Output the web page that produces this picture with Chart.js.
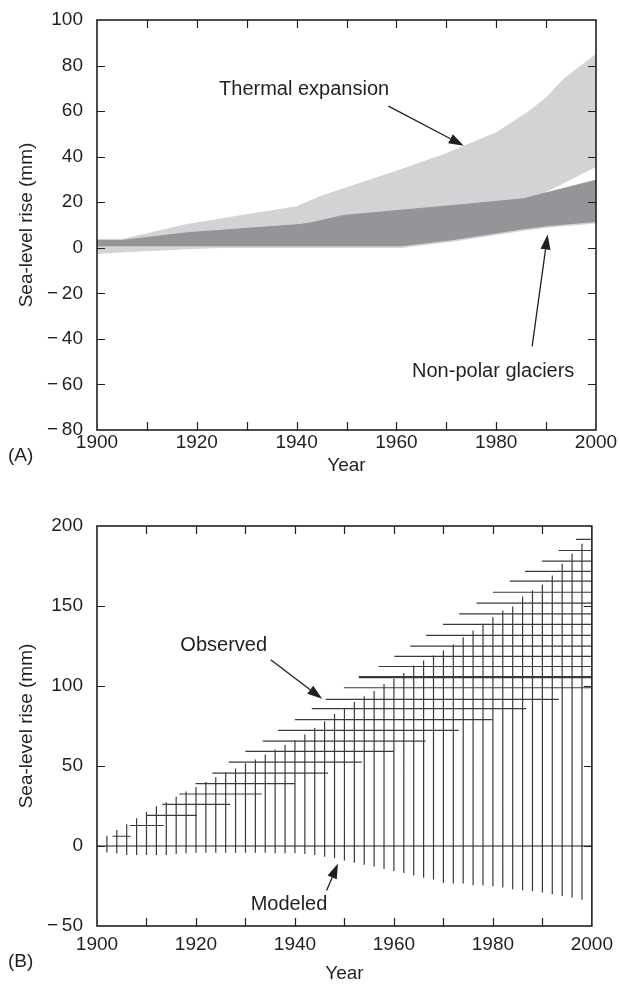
<!DOCTYPE html>
<html>
<head>
<meta charset="utf-8">
<script src="https://cdn.jsdelivr.net/npm/chart.js@4.4.1/dist/chart.umd.min.js"></script>
<style>
  html, body { margin: 0; background: #fff; }
  #wrap { position: relative; width: 620px; height: 988px; }
  canvas { position: absolute; left: 0; }
</style>
</head>
<body>
<div id="wrap">
  <canvas id="chartA" width="620" height="494" style="top:0"></canvas>
  <canvas id="chartB" width="620" height="494" style="top:494px"></canvas>
</div>
<script>
// ---- panel A: thermal expansion and glacier bands (mm) ----
const thermalYears = [1900, 1905, 1918, 1930, 1940, 1945, 1953, 1960, 1970, 1980, 1986, 1990, 1993.5, 2000];
const thermalHigh  = [3.6, 3.6, 10.2, 14.5, 18.0, 22.7, 28.5, 33.6, 41.3, 50.5, 59.0, 65.8, 74.0, 84.9];
const thermalLow   = [-2.5, -1.8, -0.4, 0.5, 0.5, 0.5, 0.8, 1.0, 3.8, 7.0, 9.0, 24.7, 28.5, 35.7];

const glacierYears = [1900, 1905, 1918, 1940.7, 1943, 1949.4, 1961, 1971.5, 1985.5, 1990.5, 2000];
const glacierHigh  = [3.2, 3.2, 6.6, 10.2, 11.0, 14.2, 16.5, 18.6, 21.5, 24.4, 29.7];
const glacierLow   = [0.3, 0.3, 0.3, 0.3, 0.3, 0.3, 0.3, 3.1, 7.8, 9.2, 11.0];

// ---- panel B: modeled ranges (vertical bars) ----
const modelYears = [1902, 1904, 1906, 1908, 1910, 1912, 1914, 1916, 1918, 1920,
                    1922, 1924, 1926, 1928, 1930, 1932, 1934, 1936, 1938, 1940,
                    1942, 1944, 1946, 1948, 1950, 1952, 1954, 1956, 1958, 1960,
                    1962, 1964, 1966, 1968, 1970, 1972, 1974, 1976, 1978, 1980,
                    1982, 1984, 1986, 1988, 1990, 1992, 1994, 1996, 1998];
const modelHigh  = [6.3, 10.0, 13.6, 17.3, 21.2, 24.8, 27.3, 30.8, 34.1, 36.8,
                    40.0, 43.0, 46.0, 48.5, 51.7, 54.0, 57.2, 60.3, 63.3, 66.0,
                    69.7, 73.8, 78.0, 82.5, 86.3, 90.0, 93.6, 96.8, 101.3, 104.5,
                    108.2, 112.8, 115.9, 119.0, 122.2, 126.0, 130.5, 134.7, 138.9, 143.0,
                    147.2, 149.7, 156.0, 159.7, 163.4, 169.0, 176.4, 182.6, 188.9];
const modelLow   = [-4.0, -4.6, -5.6, -5.6, -5.6, -5.6, -5.6, -5.0, -4.6, -4.2,
                    -4.2, -4.2, -4.2, -4.2, -4.2, -4.2, -4.2, -4.6, -4.6, -4.6,
                    -5.0, -5.6, -6.7, -7.7, -9.0, -10.5, -11.7, -12.8, -14.3, -15.7,
                    -16.9, -18.4, -19.8, -21.0, -23.1, -23.5, -23.5, -24.6, -24.6, -25.2,
                    -26.0, -27.0, -27.6, -28.3, -29.0, -30.2, -31.3, -32.3, -33.6];

// ---- panel B: observed levels (horizontal bars) ----
const obsLevel = [6.1, 12.8, 19.1, 26.0, 32.5, 39.0, 45.6, 52.4, 59.1, 65.5,
                  72.3, 79.0, 85.8, 91.6, 98.9, 105.5, 112.2, 118.5, 124.9, 131.6,
                  138.5, 145.1, 151.8, 158.6, 165.5, 171.7, 178.0, 184.7, 191.6];
const obsStart = [1903.1, 1906.6, 1909.9, 1913.2, 1916.6, 1919.9, 1923.3, 1926.6, 1930.0, 1933.5,
                  1936.6, 1940.0, 1943.4, 1946.2, 1949.9, 1952.9, 1956.9, 1960.1, 1963.3, 1966.5,
                  1969.9, 1973.2, 1976.7, 1980.0, 1983.4, 1986.5, 1989.9, 1993.3, 1996.8];
const obsEnd   = [1906.8, 1913.5, 1920.2, 1926.9, 1933.3, 1940.0, 1946.7, 1953.5, 1959.9, 1966.4,
                  1973.1, 1979.9, 1986.7, 1993.3, 2000, 2000, 2000, 2000, 2000, 2000,
                  2000, 2000, 2000, 2000, 2000, 2000, 2000, 2000, 2000];
const obsBold = 105.5;

const ink = '#231f20';
const light = '#d1d3d4';
const dark = '#939598';
const font = '"Liberation Sans", Arial, Helvetica, sans-serif';

Chart.defaults.font.family = font;
Chart.defaults.color = ink;

const pts = (xs, ys) => xs.map((x, i) => ({x, y: ys[i]}));

// frame, inward ticks, arrows and panel tag
const framePlugin = {
  id: 'frame',
  afterDatasetsDraw(chart, args, o) {
    const {ctx, chartArea: a, scales: {x, y}} = chart;
    ctx.save();
    ctx.strokeStyle = ink;
    ctx.lineWidth = 1.2;
    ctx.beginPath();
    for (let v = x.min + o.xStep; v < x.max; v += o.xStep) {
      const px = Math.round(x.getPixelForValue(v)) + 0.5;
      ctx.moveTo(px, a.bottom); ctx.lineTo(px, a.bottom - 8);
      ctx.moveTo(px, a.top); ctx.lineTo(px, a.top + 8);
    }
    y.ticks.forEach(t => {
      if (t.value <= y.min || t.value >= y.max) return;
      const py = Math.round(y.getPixelForValue(t.value)) + 0.5;
      ctx.moveTo(a.left, py); ctx.lineTo(a.left + 8, py);
      ctx.moveTo(a.right, py); ctx.lineTo(a.right - 8, py);
    });
    if (o.zero) {
      const py = y.getPixelForValue(0);
      ctx.moveTo(a.left, py); ctx.lineTo(a.right, py);
    }
    ctx.stroke();
    ctx.lineWidth = 1.6;
    ctx.strokeRect(a.left, a.top, a.right - a.left, a.bottom - a.top);

    ctx.fillStyle = ink;
    ctx.font = '20px ' + font;
    ctx.textAlign = 'center';
    ctx.textBaseline = 'middle';
    o.notes.forEach(n => {
      ctx.fillText(n.text, x.getPixelForValue(n.at[0]), y.getPixelForValue(n.at[1]));
      const x0 = x.getPixelForValue(n.from[0]), y0 = y.getPixelForValue(n.from[1]);
      const x1 = x.getPixelForValue(n.to[0]), y1 = y.getPixelForValue(n.to[1]);
      const ang = Math.atan2(y1 - y0, x1 - x0);
      const len = 15, half = 5;
      const bx = x1 - len * Math.cos(ang), by = y1 - len * Math.sin(ang);
      ctx.lineWidth = 1.3;
      ctx.beginPath();
      ctx.moveTo(x0, y0); ctx.lineTo(bx, by);
      ctx.stroke();
      ctx.beginPath();
      ctx.moveTo(x1, y1);
      ctx.lineTo(bx + half * Math.sin(ang), by - half * Math.cos(ang));
      ctx.lineTo(bx - half * Math.sin(ang), by + half * Math.cos(ang));
      ctx.closePath();
      ctx.fill();
    });

    ctx.font = '19px ' + font;
    ctx.textAlign = 'left';
    ctx.fillText(o.tag, 8, o.tagY);
    ctx.restore();
  }
};

const yLabel = v => v < 0 ? '\u2212\u2009' + Math.abs(v) : String(v);

function axes(yMin, yMax, yStep, xHeight, xPad, xTitlePad) {
  return {
    x: {
      type: 'linear', min: 1900, max: 2000,
      grid: {display: false, drawTicks: false}, border: {display: false},
      ticks: {stepSize: 20, padding: xPad, font: {size: 19}, color: ink, callback: v => String(v)},
      title: {display: true, text: 'Year', font: {size: 19}, color: ink, padding: {top: 0, bottom: xTitlePad}},
      afterFit: s => { s.height = xHeight; }
    },
    y: {
      min: yMin, max: yMax,
      grid: {display: false, drawTicks: false}, border: {display: false},
      ticks: {stepSize: yStep, padding: 14, font: {size: 19}, color: ink, callback: yLabel},
      title: {display: true, text: 'Sea-level rise (mm)', font: {size: 19}, color: ink, padding: {top: 15, bottom: 0}},
      afterFit: s => { s.width = 97; s.paddingTop = 8; s.paddingBottom = 8; }
    }
  };
}

const common = {
  responsive: false,
  animation: false,
  devicePixelRatio: 1,
  events: [],
  elements: {point: {radius: 0}, line: {tension: 0}}
};

new Chart(document.getElementById('chartA'), {
  type: 'line',
  data: {
    datasets: [
      {label: 'Thermal low', data: pts(thermalYears, thermalLow), borderColor: light, borderWidth: 1, fill: false, order: 1},
      {label: 'Thermal expansion', data: pts(thermalYears, thermalHigh), borderColor: light, borderWidth: 1, backgroundColor: light, fill: '-1', order: 1},
      {label: 'Glacier low', data: pts(glacierYears, glacierLow), borderColor: light, borderWidth: 1.6, fill: false, order: 0},
      {label: 'Non-polar glaciers', data: pts(glacierYears, glacierHigh), borderColor: dark, borderWidth: 1, backgroundColor: dark, fill: '-1', order: 0}
    ]
  },
  options: Object.assign({}, common, {
    layout: {padding: {left: 0, right: 24, top: 20, bottom: 0}},
    scales: axes(-80, 100, 20, 64, 1, 17),
    plugins: {
      legend: {display: false}, tooltip: {enabled: false},
      frame: {
        xStep: 10, zero: false, tag: '(A)', tagY: 456,
        notes: [
          {text: 'Thermal expansion', at: [1941.5, 69.3], from: [1958.4, 62.2], to: [1973.5, 44.8]},
          {text: 'Non-polar glaciers', at: [1979.4, -54.3], from: [1987.2, -43.3], to: [1990.3, 5.8]}
        ]
      }
    }
  }),
  plugins: [framePlugin]
});

new Chart(document.getElementById('chartB'), {
  type: 'line',
  data: {
    datasets: [
      {
        label: 'Modeled',
        data: modelYears.flatMap((x, i) => [{x, y: modelLow[i]}, {x, y: modelHigh[i]}, {x, y: null}]),
        borderColor: '#3a3a3a', borderWidth: 1.2, fill: false
      },
      {
        label: 'Observed',
        data: obsLevel.flatMap((y, i) => [{x: obsStart[i], y}, {x: obsEnd[i], y}, {x: obsEnd[i], y: null}]),
        borderColor: '#3a3a3a', borderWidth: 1.2, fill: false,
        segment: {borderWidth: c => obsLevel[Math.floor(c.p0DataIndex / 3)] === obsBold ? 2.2 : 1.2}
      }
    ]
  },
  options: Object.assign({}, common, {
    layout: {padding: {left: 0, right: 27, top: 32, bottom: 0}},
    scales: axes(-50, 200, 50, 62, 7, 3),
    plugins: {
      legend: {display: false}, tooltip: {enabled: false},
      frame: {
        xStep: 10, zero: true, tag: '(B)', tagY: 468,
        notes: [
          {text: 'Observed', at: [1925.6, 125.3], from: [1935.1, 116.4], to: [1945.5, 92]},
          {text: 'Modeled', at: [1938.8, -36.4], from: [1946.4, -27.8], to: [1948.7, -11]}
        ]
      }
    }
  }),
  plugins: [framePlugin]
});
</script>
</body>
</html>
